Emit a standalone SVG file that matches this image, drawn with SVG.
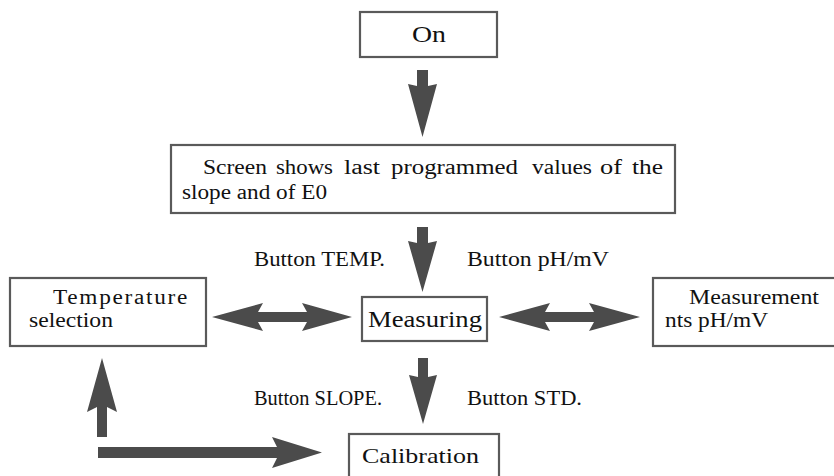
<svg xmlns="http://www.w3.org/2000/svg" width="834" height="476" viewBox="0 0 834 476">
<style>
.box{fill:#fff;stroke:#5a5a5a;stroke-width:2.2}
.t{font-family:"Liberation Serif","DejaVu Serif",serif;fill:#111}
.arr{fill:#4b4b4b}
</style>
<rect width="834" height="476" fill="#fff"/>
<g id="connectors">
<polygon class="arr" points="417,70 428,70 428,86 437,84 422.5,137 408,84 417,86"/>
<polygon class="arr" points="417,227 428,227 428,243 437,241 422.5,292 408,241 417,243"/>
<polygon class="arr" points="418,358 428,358 428,377 437,375 423,424 409,375 418,377"/>
<polygon class="arr" points="212,317 263,303 258,312 307,312 302,303 352,317 302,331 307,322 258,322 263,331"/>
<polygon class="arr" points="499,317 550,303 545,312 594,312 589,303 640,317 589,331 594,322 545,322 550,331"/>
<polygon class="arr" points="102,358 117,412 107,407 107,437 97,437 97,407 87,412"/>
<polygon class="arr" points="98,447 277,447 272,437 322,452.5 272,468 277,458 98,458"/>
</g>
<g id="labels">
<text class="t" x="254" y="266" font-size="20.5" textLength="131" lengthAdjust="spacingAndGlyphs">Button TEMP.</text>
<text class="t" x="467" y="266" font-size="20.5" textLength="142" lengthAdjust="spacingAndGlyphs">Button pH/mV</text>
<text class="t" x="254" y="405" font-size="20.5" textLength="128" lengthAdjust="spacingAndGlyphs">Button SLOPE.</text>
<text class="t" x="467" y="405" font-size="20.5" textLength="115" lengthAdjust="spacingAndGlyphs">Button STD.</text>
</g>
<g id="on">
<rect class="box" x="360" y="12" width="137" height="45"/>
<text class="t" x="412" y="42" font-size="24" textLength="34" lengthAdjust="spacingAndGlyphs">On</text>
</g>
<g id="screen">
<rect class="box" x="171" y="145" width="504" height="68"/>
<text class="t" x="203" y="174" font-size="20" textLength="64" lengthAdjust="spacingAndGlyphs">Screen</text>
<text class="t" x="276" y="174" font-size="20" textLength="57" lengthAdjust="spacingAndGlyphs">shows</text>
<text class="t" x="344" y="174" font-size="20" textLength="36" lengthAdjust="spacingAndGlyphs">last</text>
<text class="t" x="391" y="174" font-size="20" textLength="127" lengthAdjust="spacingAndGlyphs">programmed</text>
<text class="t" x="532" y="174" font-size="20" textLength="60" lengthAdjust="spacingAndGlyphs">values</text>
<text class="t" x="600" y="174" font-size="20" textLength="22" lengthAdjust="spacingAndGlyphs">of</text>
<text class="t" x="632" y="174" font-size="20" textLength="31" lengthAdjust="spacingAndGlyphs">the</text>
<text class="t" x="182" y="199" font-size="20" textLength="145" lengthAdjust="spacingAndGlyphs">slope and of E0</text>
</g>
<g id="temperature">
<rect class="box" x="10" y="278" width="196" height="68"/>
<text class="t" x="53" y="304" font-size="20.5" letter-spacing="1.5" textLength="136" lengthAdjust="spacingAndGlyphs">Temperature</text>
<text class="t" x="29" y="327" font-size="20" textLength="84" lengthAdjust="spacingAndGlyphs">selection</text>
</g>
<g id="measuring">
<rect class="box" x="362" y="297" width="125" height="44"/>
<text class="t" x="368" y="327" font-size="24" textLength="114" lengthAdjust="spacingAndGlyphs">Measuring</text>
</g>
<g id="measurement">
<rect class="box" x="653" y="278" width="190" height="68"/>
<text class="t" x="689" y="304" font-size="20" textLength="130" lengthAdjust="spacingAndGlyphs">Measurement</text>
<text class="t" x="665" y="327" font-size="20" textLength="103" lengthAdjust="spacingAndGlyphs">nts pH/mV</text>
</g>
<g id="calibration">
<rect class="box" x="349" y="434" width="150" height="50"/>
<text class="t" x="362" y="463" font-size="22" textLength="117" lengthAdjust="spacingAndGlyphs">Calibration</text>
</g>
</svg>
